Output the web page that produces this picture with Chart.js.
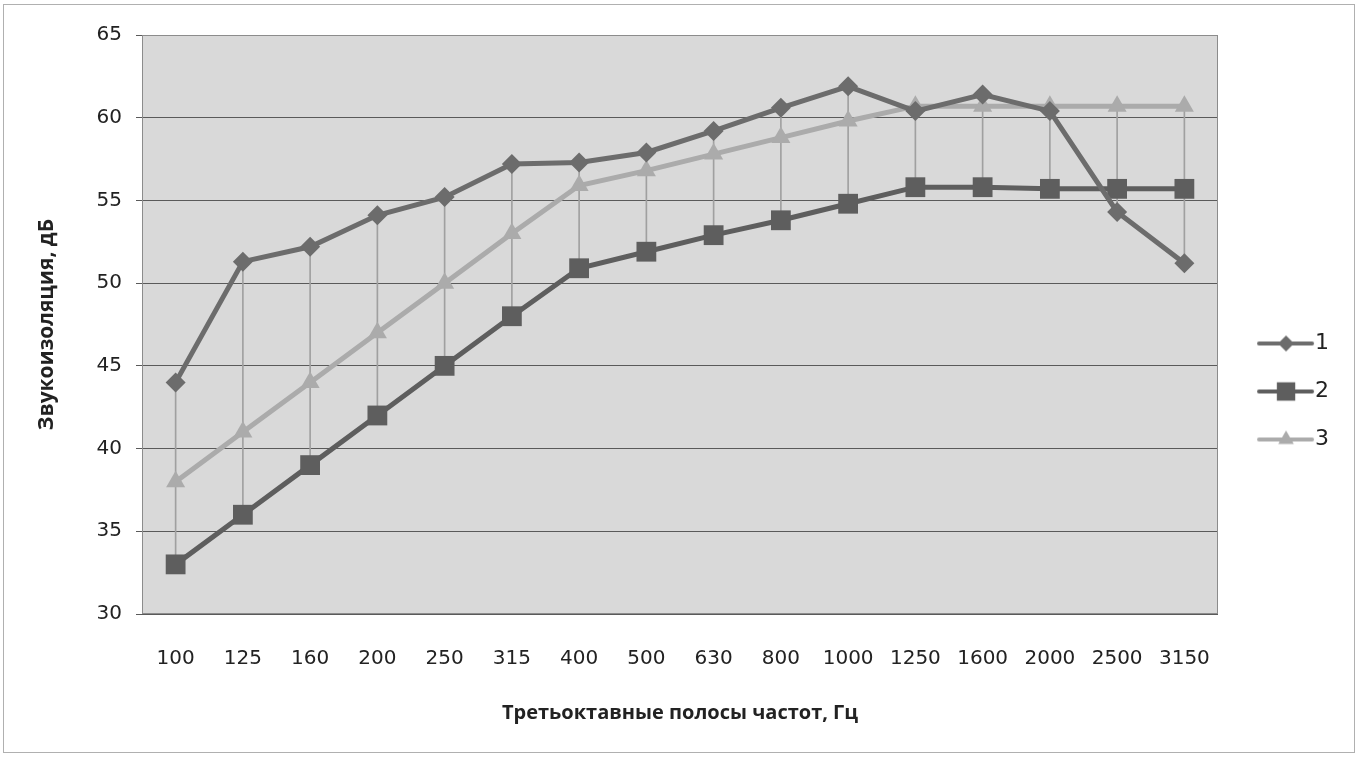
<!DOCTYPE html>
<html>
<head>
<meta charset="utf-8">
<script src="https://cdn.jsdelivr.net/npm/chart.js@4.4.1/dist/chart.umd.min.js"></script>
<style>
  body { margin: 0; background: #fff; }
  #wrap { position: relative; width: 1361px; height: 762px; }
  #frame { position: absolute; left: 3px; top: 4px; right: 6px; bottom: 9px; border: 1px solid #b0b0b0; pointer-events: none; }
</style>
</head>
<body>
<div id="wrap">
  <canvas id="zvuk" width="1361" height="762"></canvas>
  <div id="frame"></div>
</div>
<script>
// third-octave bands, Hz
var bands = ['100', '125', '160', '200', '250', '315', '400', '500', '630', '800', '1000', '1250', '1600', '2000', '2500', '3150'];
// sound insulation, dB
var series1 = [44, 51.3, 52.2, 54.1, 55.2, 57.2, 57.3, 57.9, 59.2, 60.6, 61.9, 60.4, 61.4, 60.4, 54.3, 51.2];
var series2 = [33, 36, 39, 42, 45, 48, 50.9, 51.9, 52.9, 53.8, 54.8, 55.8, 55.8, 55.7, 55.7, 55.7];
var series3 = [38, 41, 44, 47, 50, 53, 55.9, 56.8, 57.8, 58.8, 59.8, 60.7, 60.7, 60.7, 60.7, 60.7];
var seriesNames = ['1', '2', '3'];
var yTicks = [30, 35, 40, 45, 50, 55, 60, 65];

// high-low lines (min..max of the three series in each band)
var hiLo = bands.map(function (b, i) {
  var v = [series1[i], series2[i], series3[i]];
  return [Math.min.apply(null, v), Math.max.apply(null, v)];
});

var col1 = '#6c6c6c', col2 = '#5e5e5e', col3 = '#ababab';

// legend sample: line with the marker in the middle (drawn off-centre so it sits right of the box)
function legendIcon(color, style, radius) {
  var c = document.createElement('canvas');
  c.width = 90; c.height = 30;
  var g = c.getContext('2d');
  g.strokeStyle = color;
  g.lineWidth = 4;
  g.lineCap = 'round';
  g.beginPath();
  g.moveTo(30, 15); g.lineTo(83, 15);
  g.stroke();
  g.fillStyle = color;
  Chart.helpers.drawPoint(g, { pointStyle: style, radius: radius, borderWidth: 0, rotation: 0 }, 57, 15);
  return c;
}

const plotBg = {
  id: 'plotBg',
  beforeDraw(chart) {
    const a = chart.chartArea, ctx = chart.ctx;
    ctx.save();
    ctx.fillStyle = '#d9d9d9';
    ctx.fillRect(a.left, a.top, a.right - a.left, a.bottom - a.top);
    ctx.restore();
  },
  afterDatasetsDraw(chart) {
    const a = chart.chartArea, ctx = chart.ctx;
    ctx.save();
    ctx.strokeStyle = '#8c8c8c';
    ctx.lineWidth = 1;
    ctx.strokeRect(a.left + 0.5, a.top + 0.5, a.right - a.left - 1, a.bottom - a.top - 1);
    ctx.restore();
  }
};

var ctx_zvuk = document.getElementById('zvuk');
var zvuk = new Chart(ctx_zvuk, {
  type: 'line',
  data: {
    labels: bands,
    datasets: [
      {
        label: seriesNames[0],
        data: series1,
        borderColor: col1,
        backgroundColor: col1,
        borderWidth: 5,
        pointStyle: 'rectRot',
        pointRadius: 10,
        pointBorderWidth: 0,
        tension: 0,
        order: 1,
        icon: legendIcon(col1, 'rectRot', 8)
      },
      {
        label: seriesNames[1],
        data: series2,
        borderColor: col2,
        backgroundColor: col2,
        borderWidth: 5,
        pointStyle: 'rect',
        pointRadius: 14,
        pointBorderWidth: 0,
        tension: 0,
        order: 2,
        icon: legendIcon(col2, 'rect', 13)
      },
      {
        label: seriesNames[2],
        data: series3,
        borderColor: col3,
        backgroundColor: col3,
        borderWidth: 5,
        pointStyle: 'triangle',
        pointRadius: 11,
        pointBorderWidth: 0,
        tension: 0,
        order: 3,
        icon: legendIcon(col3, 'triangle', 9)
      },
      {
        type: 'bar',
        label: 'hilo',
        data: hiLo,
        backgroundColor: '#a0a0a0',
        barThickness: 1,
        grouped: false,
        order: 4
      }
    ]
  },
  options: {
    responsive: false,
    animation: false,
    layout: { padding: { top: 35, right: 22, left: 0, bottom: 14 } },
    plugins: {
      tooltip: { enabled: false },
      legend: {
        display: true,
        position: 'right',
        labels: {
          usePointStyle: true,
          pointStyleWidth: 60,
          padding: 26,
          color: '#222',
          font: { family: 'DejaVu Sans', size: 22 },
          filter: function (item) { return item.text !== 'hilo'; },
          generateLabels: function (chart) {
            return chart.data.datasets.map(function (ds, i) {
              return {
                text: ds.label,
                pointStyle: ds.icon,
                fillStyle: ds.backgroundColor,
                strokeStyle: ds.borderColor,
                lineWidth: 0,
                fontColor: '#222',
                hidden: false,
                datasetIndex: i
              };
            });
          }
        }
      }
    },
    scales: {
      x: {
        offset: true,
        grid: { display: false, drawTicks: false },
        border: { display: false },
        ticks: { color: '#222', padding: 33, maxRotation: 0, autoSkip: false,
          font: { family: 'DejaVu Sans', size: 20 } },
        title: {
          display: true,
          text: 'Третьоктавные полосы частот, Гц',
          color: '#222',
          font: { family: 'Open Sans', size: 20, weight: 'bold' },
          padding: { top: 0, bottom: 23 }
        },
        afterFit: function (s) { s.height = 134; }
      },
      y: {
        min: 30,
        max: 65,
        afterBuildTicks: function (s) { s.ticks = yTicks.map(function (v) { return { value: v }; }); },
        grid: { color: '#5a5a5a', lineWidth: 1, tickLength: 6 },
        border: { display: false },
        ticks: { color: '#222', padding: 14, font: { family: 'DejaVu Sans', size: 20 } },
        title: {
          display: true,
          text: 'Звукоизоляция, дБ',
          color: '#222',
          font: { family: 'Open Sans', size: 21, weight: 'bold' },
          padding: { top: 34, bottom: 0 }
        },
        afterFit: function (s) { s.width = 142; }
      }
    }
  },
  plugins: [plotBg]
});
</script>
</body>
</html>
